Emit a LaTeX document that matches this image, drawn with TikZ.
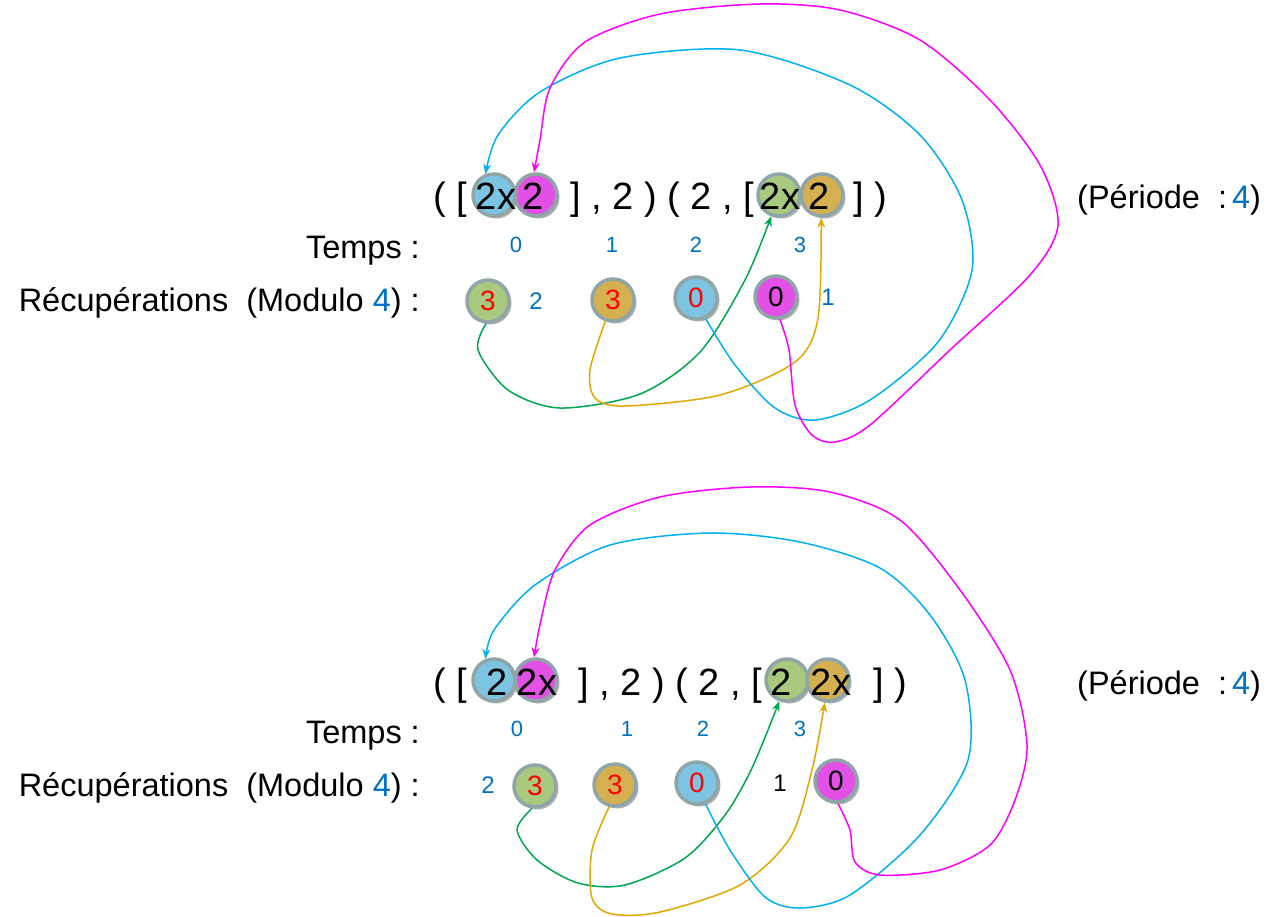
\documentclass[tikz,border=0pt]{standalone}
\usepackage{fontspec}
\setmainfont{Liberation Sans}
\usetikzlibrary{arrows.meta,shadows,calc}
\definecolor{BallBlue}{HTML}{7DC4E2}
\definecolor{BallPink}{HTML}{E250E6}
\definecolor{BallGreen}{HTML}{A9C97F}
\definecolor{BallGold}{HTML}{D4B050}
\definecolor{BallRim}{HTML}{8FA5A8}
\definecolor{LinkGreen}{HTML}{00A650}
\definecolor{LinkGold}{HTML}{E2A800}
\definecolor{LinkBlue}{HTML}{00B0F0}
\definecolor{LinkPink}{HTML}{FF00FF}
\definecolor{NumBlue}{HTML}{0070C0}
\tikzset{
  ball/.style={circle, draw=BallRim, line width=3.5pt, minimum size=42pt, inner sep=0pt,
    drop shadow={shadow xshift=2.5pt, shadow yshift=-2.5pt, opacity=.3, fill=black}},
  big/.style={font=\fontsize{38}{40}\selectfont, inner sep=0pt},
  side/.style={font=\fontsize{32.5}{34}\selectfont, inner sep=0pt},
  bnum/.style={font=\fontsize{28}{30}\selectfont, inner sep=0pt},
  tnum/.style={font=\fontsize{22}{24}\selectfont, inner sep=0pt, text=NumBlue},
  rnum/.style={font=\fontsize{24}{26}\selectfont, inner sep=0pt},
  link/.style={line width=1.5pt, -{Stealth[length=10pt,width=8pt]}}
}
\begin{document}
\begin{tikzpicture}[x=1pt,y=-1pt]
\useasboundingbox (0,0) rectangle (1281,916);

% balls, upper half
\foreach \nm/\px/\py/\col in {topA/494/195/BallBlue, topB/536/195/BallPink, topC/779/195/BallGreen, topD/822/195/BallGold,
    rtg/488/301/BallGreen, rto/613/300/BallGold, rtb/696/298/BallBlue, rtm/776/297/BallPink}
  \node[ball, fill=\col] (\nm) at (\px,\py) {};
% balls, lower half
\foreach \nm/\px/\py/\col in {botA/494/680/BallBlue, botB/536/680/BallPink, botC/787/680/BallGreen, botD/828/680/BallGold,
    rbg/535/786/BallGreen, rbo/615/785/BallGold, rbb/697/783/BallBlue, rbm/836/781/BallPink}
  \node[ball, fill=\col] (\nm) at (\px,\py) {};

% sequence rows
\node[big, anchor=base west] (ta) at (433,209) {( [};
\node[big, anchor=base west] (tb) at (570,209) {] , 2 ) ( 2 , [};
\node[big, anchor=base west] (tc) at (853,209) {] )};
\foreach \nm/\px/\txt in {tA/496/2x, tB/533/2, tC/780/2x, tD/819/2}
  \node[big, anchor=base] (\nm) at (\px,209) {\txt};
\node[big, anchor=base west] (ba) at (433,695) {( [};
\node[big, anchor=base west] (bb) at (578,695) {] , 2 ) ( 2 , [};
\node[big, anchor=base west] (bc) at (873,695) {] )};
\foreach \nm/\px/\txt in {bA/497/2, bB/537/2x, bC/781/2, bD/831/2x}
  \node[big, anchor=base] (\nm) at (\px,695) {\txt};

% labels
\node[side, anchor=base east] (tmA) at (420,258) {Temps :};
\node[side, anchor=base east] (rcA) at (420,311) {Récupérations\ \ (Modulo {\color{NumBlue}4})\ :};
\node[side, anchor=base west] (prA) at (1077,208) {(Période\ \ :\hspace{5pt}{\color{NumBlue}4})};
\node[side, anchor=base east] (tmB) at (420,743) {Temps :};
\node[side, anchor=base east] (rcB) at (420,796) {Récupérations\ \ (Modulo {\color{NumBlue}4})\ :};
\node[side, anchor=base west] (prB) at (1077,694) {(Période\ \ :\hspace{5pt}{\color{NumBlue}4})};

% time steps
\foreach \px [count=\i from 0] in {516,612,696,800}
  \node[tnum] (tt\i) at (\px,245) {\i};
\foreach \px [count=\i from 0] in {517,627,703,800}
  \node[tnum] (bt\i) at (\px,729) {\i};

% ball digits
\foreach \nm/\txt/\col in {rtg/3/red, rto/3/red, rtb/0/red, rtm/0/black, rbg/3/red, rbo/3/red, rbb/0/red, rbm/0/black}
  \node[bnum, text=\col] at (\nm) {\txt};
\node[rnum, text=NumBlue] (rt2) at (536,301) {2};
\node[rnum, text=NumBlue] (rt1) at (828,297) {1};
\node[rnum, text=NumBlue] (rb2) at (488,785) {2};
\node[rnum] (rb1) at (780,783) {1};

% links, upper half
\draw[link, LinkGreen] plot[smooth] coordinates {(rtg.265) (478,350) (508,390) (560,408) (640,394) (700,352) (745,280) (topC.250)};
\draw[link, LinkGold] plot[smooth] coordinates {(rto.250) (590,370) (595,398) (625,406) (720,395) (795,362) (818,318) (topD.268)};
\draw[link, LinkBlue] plot[smooth] coordinates {(rtb.295) (735,365) (775,408) (815,420) (870,400) (938,342) (972,270) (962,200) (920,135) (850,85) (740,50) (620,58) (540,92) (498,135) (topA.112)};
\draw[link, LinkPink] plot[smooth] coordinates {(rtm.280) (789,350) (795,405) (812,435) (835,442) (870,425) (950,350) (1030,275) (1058,225) (1040,165) (990,100) (920,40) (840,10) (760,4) (660,14) (585,42) (550,88) (540,140) (topB.95)};

% links, lower half
\draw[link, LinkGreen] plot[smooth] coordinates {(rbg.262) (517,830) (537,860) (578,883) (625,885) (685,858) (725,815) (752,768) (botC.250)};
\draw[link, LinkGold] plot[smooth] coordinates {(rbo.255) (592,850) (592,898) (612,914) (660,912) (740,885) (790,838) (812,770) (botD.262)};
\draw[link, LinkBlue] plot[smooth] coordinates {(rbb.292) (730,850) (765,897) (800,908) (850,895) (920,835) (968,760) (965,680) (930,615) (880,568) (800,542) (710,533) (610,545) (535,585) (494,630) (botA.112)};
\draw[link, LinkPink] plot[smooth] coordinates {(rbm.275) (850,830) (855,862) (880,875) (940,870) (990,845) (1015,800) (1027,745) (1010,670) (960,590) (900,520) (830,492) (750,487) (660,497) (590,525) (555,570) (541,620) (botB.95)};
\end{tikzpicture}
\end{document}
